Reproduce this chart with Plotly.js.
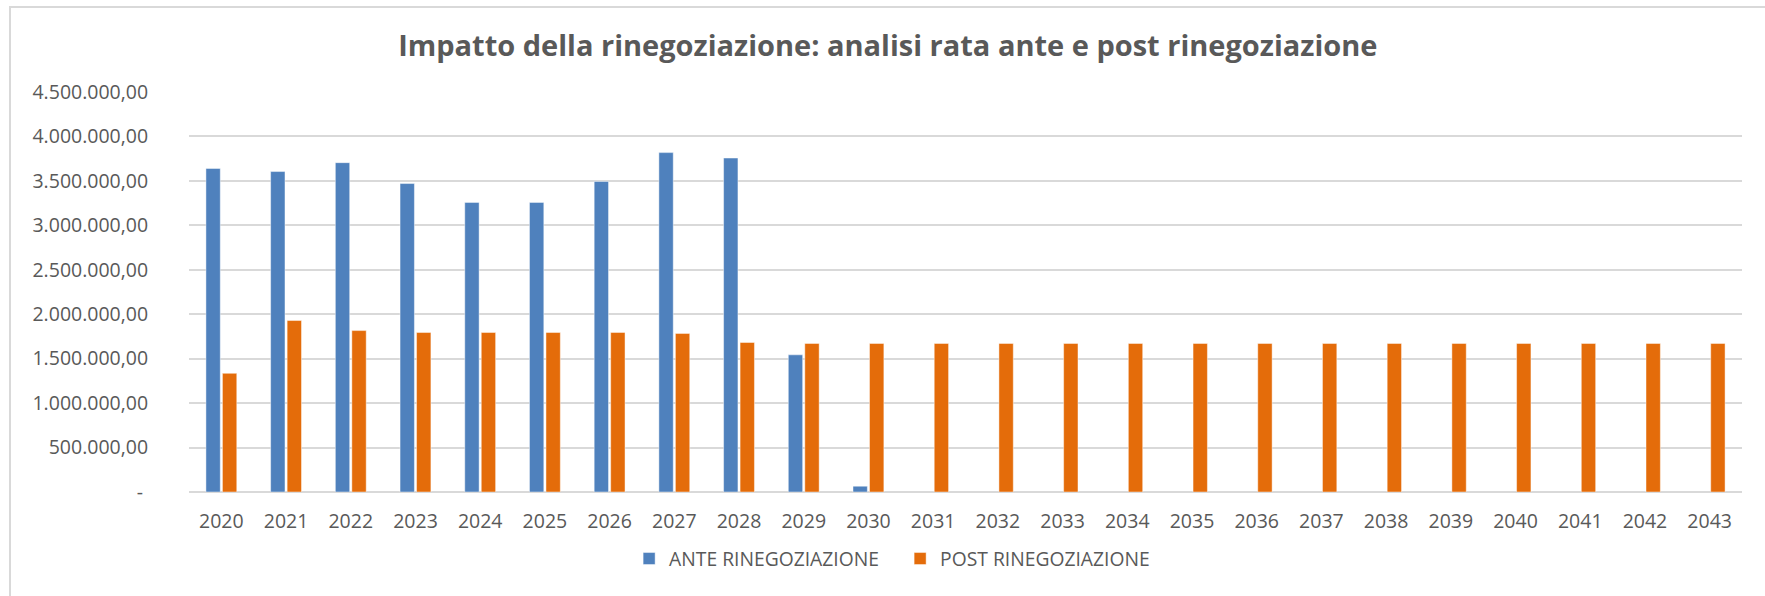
<!DOCTYPE html>
<html>
<head>
<meta charset="utf-8">
<script src="https://cdn.plot.ly/plotly-3.0.1.min.js"></script>
<style>
  html, body { margin: 0; padding: 0; background: #ffffff; }
  #frame { position: absolute; left: 9px; top: 6px; width: 1800px; height: 640px;
           border-left: 2px solid #d9d9d9; border-top: 2px solid #d9d9d9; box-sizing: border-box; }
  #chart { position: absolute; left: 0; top: 0; width: 1765px; height: 596px; }
</style>
</head>
<body>
<div id="frame"></div>
<div id="chart"></div>
<script>
const years = ["2020","2021","2022","2023","2024","2025","2026","2027","2028","2029","2030","2031",
               "2032","2033","2034","2035","2036","2037","2038","2039","2040","2041","2042","2043"];
const anteRinegoziazione = [3640000, 3605000, 3705000, 3470000, 3258000, 3258000, 3494000, 3818000,
                            3757000, 1543000, 65000, null, null, null, null, null, null, null, null,
                            null, null, null, null, null];
const postRinegoziazione = [1335000, 1929000, 1816000, 1794000, 1794000, 1794000, 1795000, 1784000,
                            1682000, 1671000, 1671000, 1671000, 1671000, 1671000, 1671000, 1671000,
                            1671000, 1671000, 1671000, 1671000, 1671000, 1671000, 1671000, 1671000];
const yTickVals = [0, 500000, 1000000, 1500000, 2000000, 2500000, 3000000, 3500000, 4000000, 4500000];
const yTickText = ["-\u00a0", "500.000,00", "1.000.000,00", "1.500.000,00", "2.000.000,00",
                   "2.500.000,00", "3.000.000,00", "3.500.000,00", "4.000.000,00", "4.500.000,00"];
const seriesNames = ["ANTE RINEGOZIAZIONE", "POST RINEGOZIAZIONE"];
const titleText = "Impatto della rinegoziazione: analisi rata ante e post rinegoziazione";

const FONT = "'Open Sans', 'Noto Sans', sans-serif";

const traces = [
  { type: "bar", name: seriesNames[0], x: years, y: anteRinegoziazione,
    marker: { color: "#4F81BD", line: { color: "rgba(255,255,255,0.45)", width: 1 } },
    hoverinfo: "skip" },
  { type: "bar", name: seriesNames[1], x: years, y: postRinegoziazione,
    marker: { color: "#E46C0A", line: { color: "rgba(255,255,255,0.45)", width: 1 } },
    hoverinfo: "skip" }
];

const layout = {
  width: 1765, height: 596,
  paper_bgcolor: "rgba(0,0,0,0)", plot_bgcolor: "rgba(0,0,0,0)",
  margin: { l: 189, r: 23, t: 92, b: 104, pad: 0 },
  font: { family: FONT, color: "#595959", size: 19 },
  title: { text: titleText, font: { family: FONT, size: 29, color: "#595959", weight: "bold" },
           x: 0.503, xref: "container", xanchor: "center", y: 0.923, yref: "container", yanchor: "middle" },
  barmode: "group", bargap: 0.49, bargroupgap: 0.13,
  xaxis: { type: "category", showgrid: false, showline: false, zeroline: false,
           ticks: "outside", ticklen: 12, tickcolor: "rgba(0,0,0,0)",
           tickfont: { family: FONT, size: 19.5, color: "#595959" }, fixedrange: true },
  yaxis: { range: [0, 4500000], tickvals: yTickVals, ticktext: yTickText,
           showgrid: true, gridcolor: "#d9d9d9", gridwidth: 2,
           zeroline: true, zerolinecolor: "#d9d9d9", zerolinewidth: 2, showline: false,
           ticks: "outside", ticklen: 36, tickcolor: "rgba(0,0,0,0)",
           tickfont: { family: FONT, size: 19.5, color: "#595959" }, fixedrange: true },
  showlegend: true,
  legend: { orientation: "h", x: 0.2834, xanchor: "left", y: -0.1675, yanchor: "middle",
            entrywidth: 226, entrywidthmode: "pixels",
            font: { family: FONT, size: 19.3, color: "#595959" }, bgcolor: "rgba(0,0,0,0)",
            itemclick: false, itemdoubleclick: false }
};

Plotly.newPlot("chart", traces, layout, { staticPlot: true, displayModeBar: false });
</script>
</body>
</html>
